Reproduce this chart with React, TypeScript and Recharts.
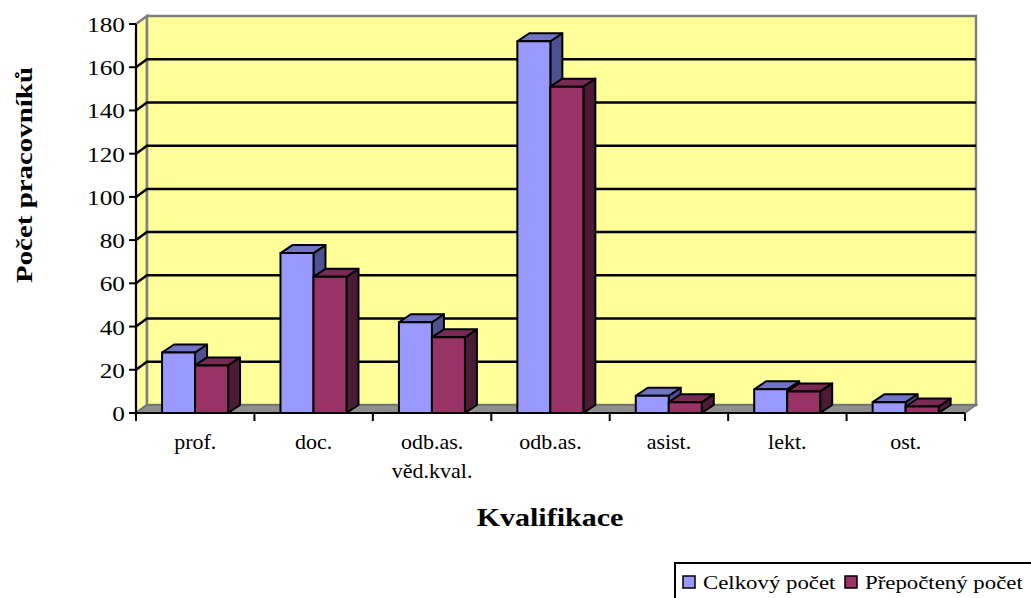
import React from 'react'
import { BarChart, Bar, XAxis, YAxis, CartesianGrid } from 'recharts'

// data
const categories = ['prof.', 'doc.', 'odb.as.\nvěd.kval.', 'odb.as.', 'asist.', 'lekt.', 'ost.']
const celkovyPocet = [28, 74, 42, 172, 8, 11, 5]
const prepoctenyPocet = [22, 63, 35, 151, 5, 10, 3]
const yTicks = [0, 20, 40, 60, 80, 100, 120, 140, 160, 180]
const seriesNames = ['Celkový počet', 'Přepočtený počet']
const xTitle = 'Kvalifikace'
const yTitle = 'Počet pracovníků'

// layout
const W = 1031
const H = 598
const PLOT_LEFT = 136
const PLOT_RIGHT = 965
const PLOT_TOP = 24
const PLOT_BOTTOM = 413
const Y_AXIS_W = 60
const WALL_DX = 11
const WALL_DY = 8
const BAR_DX = 12
const BAR_DY = 8
const FONT = 'Liberation Serif, Times New Roman, DejaVu Serif, serif'

const colors = [
  { front: '#9999FF', top: '#7174C4', side: '#4E5191' },
  { front: '#993366', top: '#782A52', side: '#4B1A34' },
]

const data = categories.map((c, i) => ({
  name: c,
  total: celkovyPocet[i],
  fte: prepoctenyPocet[i],
}))

function Bar3D(props: any) {
  const { x, y, width: w, height: h, col } = props
  if (h == null || w == null) return null
  const top = `${x},${y} ${x + BAR_DX},${y - BAR_DY} ${x + w + BAR_DX},${y - BAR_DY} ${x + w},${y}`
  const side = `${x + w},${y} ${x + w + BAR_DX},${y - BAR_DY} ${x + w + BAR_DX},${y + h - BAR_DY} ${x + w},${y + h}`
  return (
    <g stroke="#000" strokeWidth={2} strokeLinejoin="round">
      <polygon points={side} fill={col.side} />
      <polygon points={top} fill={col.top} />
      <rect x={x} y={y} width={w} height={h} fill={col.front} />
    </g>
  )
}

const gridLine = (p: any) => {
  const { x1, y1, x2 } = p
  if (Math.abs(y1 - PLOT_TOP) < 1 || Math.abs(y1 - PLOT_BOTTOM) < 1) return <g key={p.key} />
  const pts = `${x1},${y1} ${x1 + WALL_DX},${y1 - WALL_DY} ${x2 + WALL_DX},${y1 - WALL_DY}`
  return <polyline key={p.key} points={pts} fill="none" stroke="#000" strokeWidth={2.5} />
}

const txt = { fontFamily: FONT, fill: '#000' }

const XTick = (p: any) => {
  const { x, y, payload } = p
  const index = p.index ?? payload.index
  const bw = (PLOT_RIGHT - PLOT_LEFT) / categories.length
  const lines = String(payload.value).split('\n')
  return (
    <g>
      <line x1={x - bw / 2} x2={x - bw / 2} y1={y} y2={y + 8} stroke="#000" strokeWidth={2} />
      {index === categories.length - 1 && (
        <line x1={x + bw / 2} x2={x + bw / 2} y1={y} y2={y + 8} stroke="#000" strokeWidth={2} />
      )}
      {lines.map((l, i) => (
        <text
          key={i}
          transform={`translate(${x},${y + 36 + i * 29}) scale(1.1,1)`}
          textAnchor="middle"
          style={{ ...txt, fontSize: 20 }}
        >
          {l}
        </text>
      ))}
    </g>
  )
}

const YTick = (p: any) => {
  const { x, y, payload } = p
  return (
    <text
      transform={`translate(${x - 2},${y + 8}) scale(1.15,1)`}
      textAnchor="end"
      style={{ ...txt, fontSize: 22 }}
    >
      {payload.value}
    </text>
  )
}

function Backdrop() {
  const pw = PLOT_RIGHT - PLOT_LEFT
  const ph = PLOT_BOTTOM - PLOT_TOP
  const bx = PLOT_LEFT + WALL_DX
  const by = PLOT_TOP - WALL_DY
  return (
    <svg width={W} height={H} style={{ position: 'absolute', left: 0, top: 0 }}>
      <polygon
        points={`${PLOT_LEFT},${PLOT_TOP} ${bx},${by} ${bx},${by + ph} ${PLOT_LEFT},${PLOT_BOTTOM}`}
        fill="#FFFF99"
        stroke="#808080"
        strokeWidth={2.5}
      />
      <rect x={bx} y={by} width={pw} height={ph} fill="#FFFF99" stroke="#808080" strokeWidth={2.5} />
      <polygon
        points={`${PLOT_LEFT},${PLOT_BOTTOM} ${PLOT_RIGHT},${PLOT_BOTTOM} ${PLOT_RIGHT + WALL_DX},${PLOT_BOTTOM - WALL_DY} ${bx},${PLOT_BOTTOM - WALL_DY}`}
        fill="#8F8F8F"
        stroke="#707070"
        strokeWidth={1.5}
      />
      <text
        transform={`translate(550,526) scale(1.2,1)`}
        textAnchor="middle"
        style={{ ...txt, fontSize: 25, fontWeight: 'bold' }}
      >
        {xTitle}
      </text>
      <text
        transform={`translate(32,175) rotate(-90)`}
        textAnchor="middle"
        style={{ ...txt, fontSize: 24, fontWeight: 'bold' }}
        textLength={216}
        lengthAdjust="spacingAndGlyphs"
      >
        {yTitle}
      </text>
      <rect x={675} y={563} width={400} height={60} fill="#fff" stroke="#000" strokeWidth={2} />
      {seriesNames.map((n, i) => {
        const lx = i === 0 ? 683 : 845
        return (
          <g key={n}>
            <rect x={lx} y={576} width={12} height={12} fill={colors[i].front} stroke="#000" strokeWidth={1.5} />
            <text transform={`translate(${lx + 20},589) scale(1.17,1)`} style={{ ...txt, fontSize: 19.5 }}>
              {n}
            </text>
          </g>
        )
      })}
    </svg>
  )
}

export default function App() {
  return (
    <div style={{ position: 'absolute', left: 0, top: 0, width: W, height: H, overflow: 'hidden', background: '#fff' }}>
      <Backdrop />
      <div style={{ position: 'absolute', left: 0, top: 0 }}>
        <BarChart
          width={W}
          height={H}
          data={data}
          margin={{ top: PLOT_TOP, right: W - PLOT_RIGHT, bottom: 0, left: PLOT_LEFT - Y_AXIS_W }}
          barCategoryGap="22%"
          barGap={0}
        >
          <CartesianGrid vertical={false} horizontal={gridLine} />
          <XAxis
            dataKey="name"
            height={H - PLOT_BOTTOM}
            tickSize={0}
            tickMargin={0}
            tickLine={false}
            axisLine={{ stroke: '#000', strokeWidth: 2 }}
            tick={<XTick />}
            interval={0}
          />
          <YAxis
            width={Y_AXIS_W}
            domain={[0, 180]}
            ticks={yTicks}
            interval={0}
            tickSize={7}
            tickLine={{ stroke: '#000', strokeWidth: 2 }}
            axisLine={{ stroke: '#000', strokeWidth: 2 }}
            tick={<YTick />}
          />
          <Bar dataKey="total" name={seriesNames[0]} isAnimationActive={false} shape={(p: any) => <Bar3D {...p} col={colors[0]} />} />
          <Bar dataKey="fte" name={seriesNames[1]} isAnimationActive={false} shape={(p: any) => <Bar3D {...p} col={colors[1]} />} />
        </BarChart>
      </div>
    </div>
  )
}
